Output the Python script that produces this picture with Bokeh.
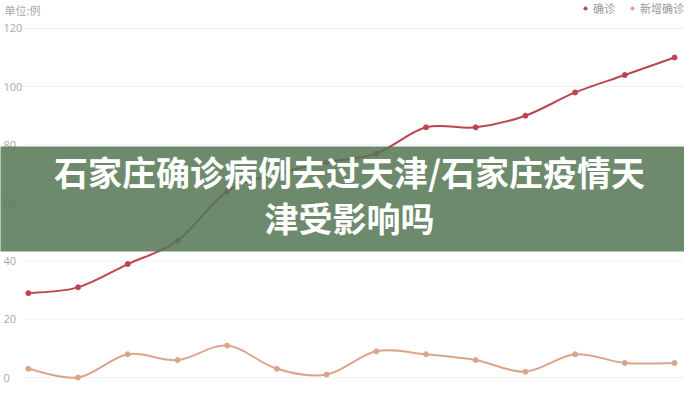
from bokeh.plotting import figure
from bokeh.models import Range1d, BoxAnnotation, Label, Legend, LegendItem
from bokeh.embed import file_html
from bokeh.resources import INLINE
import numpy as np

# ---- data ----
days = list(range(14))
confirmed = [29, 31, 39, 47, 64, 70, 74, 77, 86, 86, 90, 98, 104, 110]
new_confirmed = [3, 0, 8, 6, 11, 3, 1, 9, 8, 6, 2, 8, 5, 5]
y_ticks = [0, 20, 40, 60, 80, 100, 120]
series_names = ["确诊", "新增确诊"]
unit_text = "单位:例"
banner_lines = ["石家庄确诊病例去过天津/石家庄疫情天", "津受影响吗"]

RED = "#bb4652"
PEACH = "#dba58c"
FONT = "Noto Sans CJK SC"

W, H = 684, 384
p = figure(width=W, height=H, output_backend="svg", toolbar_location=None,
           x_range=Range1d(-0.56, 13.2), y_range=Range1d(-2.4, 129.6),
           min_border_left=0, min_border_right=0, min_border_top=0, min_border_bottom=0)
p.outline_line_color = None
p.background_fill_color = "white"
p.xaxis.visible = False
p.yaxis.visible = False
p.xgrid.grid_line_color = None
p.ygrid.grid_line_color = None

# horizontal grid lines starting at the first category
p.segment(x0=[days[0] - 0.1] * len(y_ticks), x1=[p.x_range.end] * len(y_ticks),
          y0=y_ticks, y1=y_ticks, line_color="#f0f0f0", line_width=1)

# y tick labels, left aligned near the canvas edge
for t in y_ticks:
    p.add_layout(Label(x=3, y=t, x_units="screen", y_units="data", text=str(t),
                       text_align="left", text_baseline="middle",
                       text_font="Open Sans", text_font_size="11px", text_color="#a8a8a8"))


def smooth_segments(xs, ys, k=1.0):
    xs = np.asarray(xs, float)
    ys = np.asarray(ys, float)
    n = len(xs)
    x0, y0, x1, y1, cx0, cy0, cx1, cy1 = ([] for _ in range(8))
    for i in range(n - 1):
        pxm = xs[i - 1] if i > 0 else xs[i]
        pym = ys[i - 1] if i > 0 else ys[i]
        pxp = xs[i + 2] if i + 2 < n else xs[i + 1]
        pyp = ys[i + 2] if i + 2 < n else ys[i + 1]
        x0.append(xs[i]); y0.append(ys[i]); x1.append(xs[i + 1]); y1.append(ys[i + 1])
        cx0.append(xs[i] + (xs[i + 1] - pxm) / 6 * k)
        cy0.append(ys[i] + (ys[i + 1] - pym) / 6 * k)
        cx1.append(xs[i + 1] - (pxp - xs[i]) / 6 * k)
        cy1.append(ys[i + 1] - (pyp - ys[i]) / 6 * k)
    return dict(x0=x0, y0=y0, x1=x1, y1=y1, cx0=cx0, cy0=cy0, cx1=cx1, cy1=cy1)


renderers = []
for vals, col in [(confirmed, RED), (new_confirmed, PEACH)]:
    seg = smooth_segments(days, vals)
    b = p.bezier(line_color=col, line_width=2, **seg)
    s = p.scatter(days, vals, size=5, color=col)
    renderers.append((b, s))

legend = Legend(items=[LegendItem(label=series_names[0], renderers=[renderers[0][1]]),
                       LegendItem(label=series_names[1], renderers=[renderers[1][1]])],
                location="top_right", orientation="horizontal",
                label_text_font=FONT, label_text_font_size="11px", label_text_color="#999999",
                border_line_color=None, background_fill_alpha=0,
                glyph_width=10, glyph_height=8, spacing=12, padding=0, margin=0,
                label_standoff=3, label_height=8)
p.add_layout(legend)

p.add_layout(Label(x=4, y=H - 1, x_units="screen", y_units="screen", text=unit_text,
                   text_baseline="top",
                   text_font=FONT, text_font_size="11px", text_color="#a8a8a8"))

# banner overlay
banner = BoxAnnotation(left=-10, right=W + 10, top=238, bottom=133,
                       left_units="screen", right_units="screen",
                       top_units="screen", bottom_units="screen",
                       fill_color="#547552", fill_alpha=0.85, line_color=None, level="overlay")
p.add_layout(banner)
for t, sy in zip(banner_lines, [213, 167]):
    p.add_layout(Label(x=349, y=sy, x_units="screen", y_units="screen",
                       text=t, text_align="center", text_baseline="middle",
                       text_font=FONT, text_font_style="bold", text_font_size="34px",
                       text_color="white", level="overlay"))

open("out.html", "w").write(file_html(p, INLINE))
